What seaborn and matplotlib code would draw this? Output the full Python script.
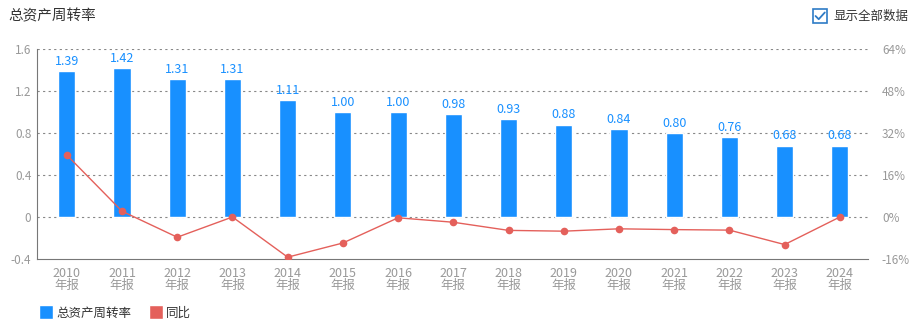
import matplotlib
matplotlib.use("Agg")
import matplotlib.pyplot as plt
import seaborn as sns
import pandas as pd
import numpy as np
from matplotlib.patches import Rectangle
from matplotlib.lines import Line2D

years = ["2010", "2011", "2012", "2013", "2014", "2015", "2016", "2017",
         "2018", "2019", "2020", "2021", "2022", "2023", "2024"]
labels = [y + "\n年报" for y in years]
turnover = [1.39, 1.42, 1.31, 1.31, 1.11, 1.00, 1.00, 0.98, 0.93, 0.88, 0.84, 0.80, 0.76, 0.68, 0.68]
yoy = [23.6, 2.2, -7.7, 0.0, -15.3, -9.9, -0.3, -2.0, -5.1, -5.4, -4.5, -4.8, -5.0, -10.5, 0.0]
left_ticks = [-0.4, 0, 0.4, 0.8, 1.2, 1.6]
left_tick_labels = ["-0.4", "0", "0.4", "0.8", "1.2", "1.6"]
right_ticks = [-16, 0, 16, 32, 48, 64]
right_tick_labels = ["-16%", "0%", "16%", "32%", "48%", "64%"]

sns.set_theme(style="white")
plt.rcParams['font.family'] = ['Noto Sans CJK SC', 'DejaVu Sans']

BLUE = "#1890FF"
RED = "#E4605B"
GREY = "#999999"

df = pd.DataFrame({"label": labels, "turnover": turnover, "yoy": yoy})

fig = plt.figure(figsize=(9.14, 3.25), dpi=100)
ax = fig.add_axes([37/914, 1-259/325, (868-37)/914, (259-49)/325])

sns.barplot(data=df, x="label", y="turnover", color=BLUE, width=0.31,
            saturation=1, ax=ax, order=labels)
ax.set_ylim(-0.4, 1.6)
ax.set_xlim(-0.54, 14.51)
ax.set_yticks(left_ticks)
ax.set_yticklabels(left_tick_labels)
ax.set_xlabel("")
ax.set_ylabel("")
for y in [0, 0.4, 0.8, 1.2, 1.6]:
    ax.axhline(y, color="#888888", lw=0.8, ls=(0, (2, 3)), zorder=0)
for i, v in enumerate(turnover):
    ax.text(i, v + 0.03, f"{v:.2f}", ha="center", va="bottom", color=BLUE, fontsize=9)

for s in ["top", "right"]:
    ax.spines[s].set_visible(False)
ax.spines["left"].set_color("#777777")
ax.spines["bottom"].set_color("#777777")
ax.spines["left"].set_linewidth(0.8)
ax.spines["bottom"].set_linewidth(0.8)
ax.tick_params(axis="y", colors=GREY, labelsize=8.5, length=0, pad=4)
ax.tick_params(axis="x", colors=GREY, labelsize=9, length=0, pad=6)
for t in ax.get_xticklabels():
    t.set_linespacing(0.9)

ax2 = ax.twinx()
sns.lineplot(x=np.arange(len(yoy)), y=yoy, ax=ax2, color=RED, lw=1.0,
             marker="o", markersize=5.5, markeredgewidth=0)
ax2.set_ylim(-16, 64)
ax2.set_yticks(right_ticks)
ax2.set_yticklabels(right_tick_labels)
ax2.set_xlim(-0.54, 14.51)
for s in ["top", "right", "left", "bottom"]:
    ax2.spines[s].set_visible(False)
ax2.tick_params(axis="y", colors=GREY, labelsize=8.5, length=0, pad=10)

# title
fig.text(8/914, 1-16/325, "总资产周转率", fontsize=10.5, color="#333333", va="center", ha="left")

# checkbox
cb = fig.add_axes([812/914, 1-24/325, 16/914, 16/325])
cb.set_xlim(0, 1); cb.set_ylim(0, 1); cb.axis("off")
cb.add_patch(Rectangle((0.04, 0.04), 0.92, 0.92, fill=False, ec="#2E7BC6", lw=1.2))
cb.plot([0.22, 0.42, 0.8], [0.5, 0.3, 0.72], color="#2E7BC6", lw=1.3)
fig.text(833/914, 1-16/325, "显示全部数据", fontsize=9, color="#333333", va="center", ha="left")

# legend
handles = [Line2D([0], [0], marker="s", color="w", markerfacecolor=BLUE, markersize=10, lw=0),
           Line2D([0], [0], marker="s", color="w", markerfacecolor=RED, markersize=10, lw=0)]
fig.legend(handles, ["总资产周转率", "同比"], loc="center left",
           bbox_to_anchor=(30/914, 1-313/325), ncol=2, frameon=False,
           fontsize=9, handlelength=0.8, handletextpad=0.4, columnspacing=1.6,
           labelcolor="#333333")

fig.savefig("out.png", dpi=100)
